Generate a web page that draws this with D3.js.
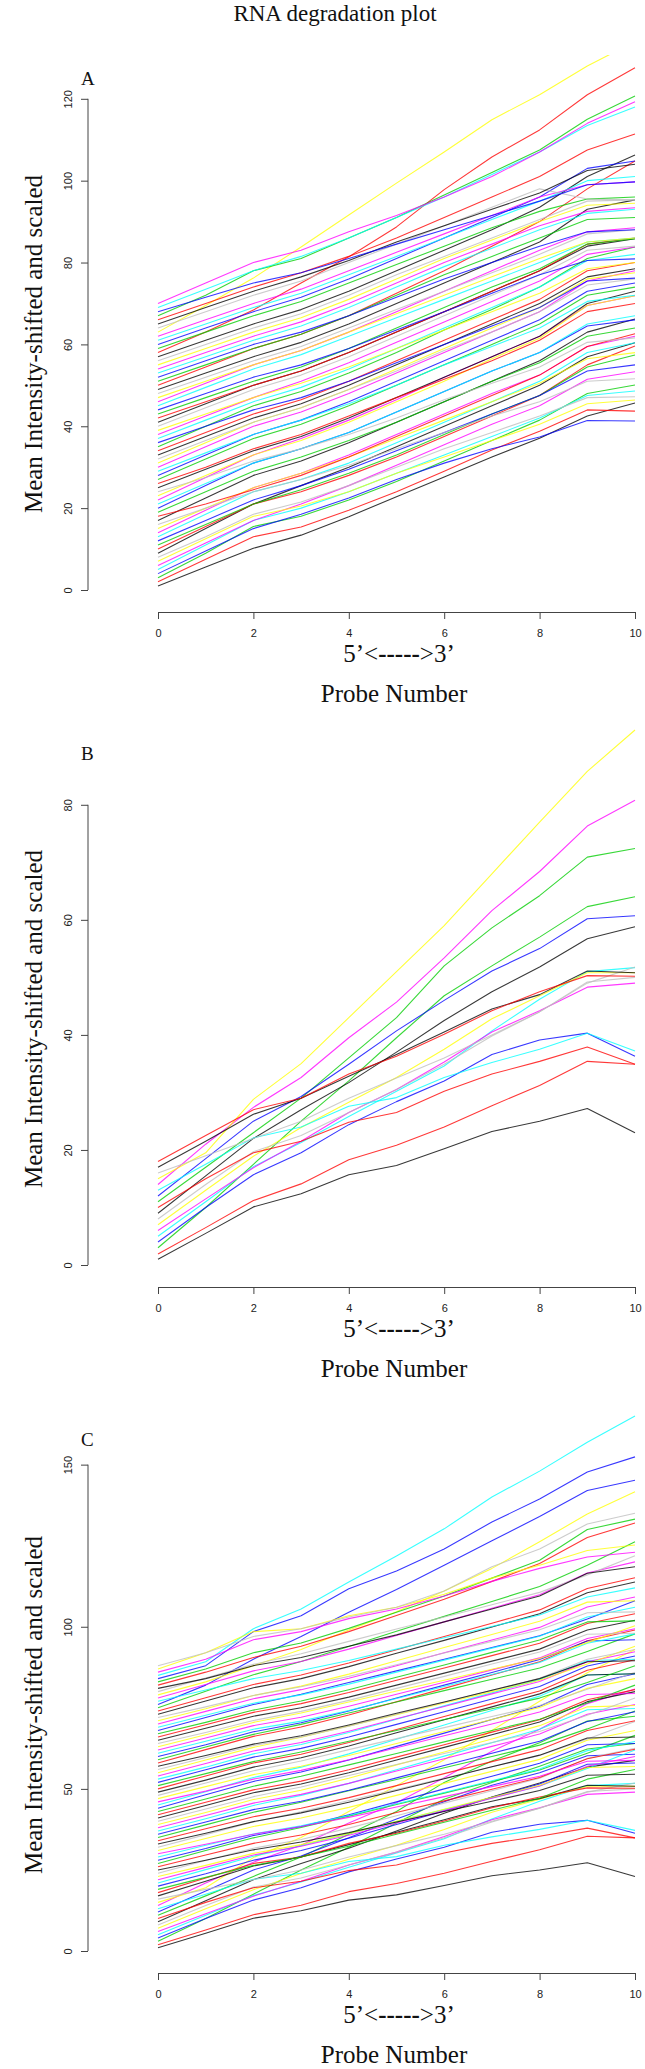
<!DOCTYPE html>
<html><head><meta charset="utf-8">
<script src="https://cdn.jsdelivr.net/npm/d3@7"></script>
<style>body{margin:0;background:#fff}</style>
</head><body>
<svg id="chart" width="645" height="2069"></svg>
<script>
// ---------------- data ----------------
const probes = [0,1,2,3,4,5,6,7,8,9,10];
const xTicks = [0,2,4,6,8,10];
const yTicksA = [0,20,40,60,80,100,120];
const yTicksB = [0,20,40,60,80];
const yTicksC = [0,50,100,150];
const yMax = [130.7, 93, 165];
const panelLabels = ["A","B","C"];
const palette = ["#000000","#FF0000","#00CD00","#0000FF","#00FFFF","#FF00FF","#FFFF00","#BEBEBE"];

const seriesA = [
[1,5.6,10.2,13.4,17.9,22.8,27.6,32.5,37.1,42.5,45.7],
[2,7.5,13,15.4,19.5,24,29,34.2,38.8,44,43.7],
[3,9,15.5,18,22,26.5,31.5,36.5,41.5,48,50.1],
[4,9.5,15,18.5,22.5,27,31,34.5,37.4,41.4,41.3],
[5,11,17,20,24,28.5,33,37.5,42,47.5,48.6],
[6,11.5,17,21,25.5,30.5,35.5,40.5,45,51.5,53.3],
[7,12.5,18,20.5,24,28.5,32.5,36.5,40.5,45.5,46.4],
[8,13,18.5,21.5,25.5,30,34.5,38.5,42.5,47,47.2],
[9,15,21,25.5,30,35,40,45,50,57,60.4],
[10,15.5,21,24,28,32.5,37.5,42.5,47.5,55,59.6],
[11,16,21,24.5,28.5,33,38,43,47.5,54.5,57.4],
[12,17,22,25.5,29.5,34,38.5,43,47.5,53.5,55],
[13,18.5,24,27,31,36,41,46,51,58,60.4],
[14,19.5,25,28.5,33,38,43,48,52.5,59.5,62],
[15,20,25,28.5,32.5,37,41.5,46,50.5,56.5,58],
[16,20,24,27,30.5,34.5,38.5,42.5,46,51,51.6],
[17,22.5,28,31.5,36,41,46,51,56,63,66.2],
[18,21,24.5,28,32.5,37.5,42.5,47.5,52.5,59.5,62.6],
[19,24,29,32.5,36.5,41,46,51,55.5,62,64],
[20,25.5,31,34.5,38.5,43.5,48.5,53.5,58,64.5,66],
[21,26,31,34.5,38.5,43.5,48.5,53.5,58,65,67],
[22,27.5,33,37,41.5,46.5,52,57,62,69.5,71.9],
[23,28,33,36.5,41,46,51,56.5,61.5,69.5,71.9],
[24,27.5,31.5,34.5,38,42,46.5,50.5,54.5,60.5,61.6],
[25,29.5,34,37.5,42,47,52,57,62,70,73],
[26,30,34.5,38,42.5,47,51.5,56,61,68,70],
[27,32,37,40.5,45,50,55,60,65,72,74],
[28,33,38,41.5,46,51,56,61,66,73,75],
[29,33.5,38,41.5,45.5,50,55,59.5,64,70.5,72],
[30,35,40,43.5,48,53,58,63,68,75.5,78],
[31,36,41,44.5,49,54,59,64,69,76,77.5],
[32,36.5,41,44.5,49,53.5,58.5,63,68,74.5,76],
[33,37.5,42,45.5,50,55,60,65,70,76.5,78.5],
[34,38.5,43,46.5,51,56,61,66,71,78,80],
[35,40,45,48.5,53,58,63.5,68.5,74,81,83.8],
[36,40,44,47,51,55.5,60,64.5,69,75.5,76.2],
[37,41.5,46,49.5,54,59,64,69,74,80.5,82],
[38,42.5,47,51,55.5,60.5,65.5,70.5,75.5,82,83.8],
[39,43,47,50.5,54.5,59,63.5,68,72.5,78.5,80],
[40,44.5,49,52.5,57,62,67,72,77,83,84],
[41,45.5,50,53.5,58,63,68,73,78,84,85.8],
[42,46,50,53.5,58,63,68,73,78,84.5,86],
[43,47,51,54.5,59,64,69,74,78.5,84.5,85.8],
[44,48,52,55,59,63.5,68,72.5,77,80.5,80.9],
[45,49.5,54,57.5,62,66.5,71,75.5,80,85,86],
[46,50.5,55,58.5,63,68,73,78,83,87.5,88.5],
[47,51,55,58.5,63,67.5,72,76.5,81,85,86],
[48,52,56,59.5,64,68.5,73,77.5,82,87,88],
[49,53,57,60.5,65,70,75,80,85,93,95.3],
[50,54.5,59,62.5,67,72.5,78,84,90,98,104.8],
[51,55,59,62.5,67,72,77,81.5,86,90.5,91],
[52,56,60,63,67,71.5,76,80,84,87.5,88],
[53,57,61,64.5,69,74,79,83.5,88,92,93],
[54,58,62,65.5,70,75,80,84.5,89,92.5,93.4],
[55,59,63,66.5,71,76,81,85.5,90,94,94.5],
[56,60,64,67.5,72,77,81.5,86,90.5,95,95.3],
[57,61,65,68.5,73,78,83,88,93.5,101,106.3],
[58,63,68.4,75,81.4,88.7,97.8,105.8,112.4,121,127.6],
[59,63,67,70.5,75,79.5,84,88.5,92.5,95.5,96],
[60,64,68,71.5,76,81,86,91,96,103,104.8],
[61,65,69,72.5,77,81.5,86,90.5,95,100,101],
[62,66,70,73.5,78,82.5,87,91.5,96,99,99.7],
[63,69.5,76.2,83.8,91.6,99.4,107,114.9,121,128,134],
[64,68,72,75.5,80,84.5,89,93.5,98,95.5,95.3],
[65,69,73,76.5,80.5,85,89,93,97,102.5,104],
[66,70,74,77.5,81.5,86,91,96,101,107.5,111.4],
[67,72,78,81,86,91,96.5,102,107.5,115,120.7],
[68,71.5,75,77.5,81,84.5,88,91.5,95,99,99.7],
[69,73.5,78,81.5,86,91,96,101.5,107,113.5,118],
[70,75,80,83,87.5,91.5,96,101,107,114,119.3]
];

const seriesB = [
[1,5.5,10.1,12.4,15.7,17.3,20.2,23.2,25,27.2,23],
[1.9,6.5,11.2,14.1,18.3,20.8,24,27.7,31.2,35.4,34.9],
[3,10,17.5,25,32,39.5,46.8,52,57,62.3,64],
[4,10,15.7,19.5,24.4,28.4,32,36.6,39.1,40.3,36.3],
[5,11,17.1,21.3,25.8,30.2,34.6,40.7,46.2,51,51.7],
[6,11.5,16.9,21.5,26.5,30.5,35.3,40.5,44.2,48.3,49],
[7,13,18.9,23.9,28.3,32.6,37.5,42.8,46.8,50.8,50.8],
[8,14,19.7,22.5,26.5,30.5,34.9,39.8,44,49.2,50],
[9,15.5,22,27,31.7,37,42.5,47.5,51.8,56.7,58.8],
[10,15,19.5,21.5,24.8,26.5,30.2,33.2,35.4,37.9,34.9],
[11,17,23,29,36,43,52,58.6,64.2,70.9,72.4],
[12,18.5,25,29.3,34.9,40.7,46,51.1,55,60.2,60.7],
[13,17.5,22.1,24,27.6,29.1,32.6,35.2,37.5,40.3,37.2],
[14,21,27.4,32.6,39.5,45.7,53.4,61.6,68.4,76.3,80.8],
[15,19.5,28.8,35,43,51,59,68,77,85.8,93],
[16,19,22,25,29,32.5,36,40,44,49,51.8],
[17,21.5,26.2,29,32.8,36.6,40.5,44.5,47,51.1,50.8],
[18,22.5,27,29,33.2,36.3,40.1,44.2,47.5,50.3,50.2]
];

const seriesCUpper = [
[19,22.7,26.4,29,32.3,36,39.7,43.4,47.1,53,56],
[20,23.8,28,31,34.8,39,43.2,47.4,51.5,57.6,58],
[21,25.1,29.2,32.5,36.2,39.9,43.6,47.2,50.9,56.3,62],
[22,25.8,29.6,32.3,35.7,39.5,43.3,47.1,50.9,57,60],
[23,26.4,30.1,32.8,36.2,40,43.7,47.4,51.1,56.6,56.9],
[24,27.9,31.7,34.4,37.9,41.7,45.6,49.4,53.3,59.4,62.5],
[25,28,31.2,33.6,36.5,39.8,43,46.2,49.5,54.2,54.5],
[26,29.6,33.2,35.8,39,42.7,46.3,49.9,53.5,59.3,62.2],
[27,31,34.9,38.1,41.6,45.2,48.7,52.3,55.8,61,66.5],
[28,31.6,35.6,38.4,42,46,50,53.9,57.9,63.6,64],
[29,32.6,36.1,38.6,41.8,45.4,48.9,52.5,56.1,61.8,64.6],
[30,32.9,36,38.4,41.2,44.4,47.6,50.7,53.9,58.5,58.8],
[31,34.7,38.4,41,44.3,48,51.7,55.4,59.1,65,68],
[32,35.9,39.8,42.9,46.4,49.8,53.3,56.8,60.3,65.4,70.8],
[33,36.3,39.9,42.6,45.9,49.5,53.1,56.8,60.4,65.7,66],
[34,37.7,41.4,44,47.3,51,54.7,58.4,62.1,68,71],
[35,38.9,42.8,45.9,49.4,52.9,56.5,60,63.5,68.5,74],
[36,39.8,43.6,46.2,49.6,53.4,57.2,61,64.7,70.8,73.8],
[37,40.8,44.9,48,51.7,55.9,60.1,64.2,68.4,74.4,74.8],
[38,41.8,45.6,48.3,51.7,55.5,59.3,63.1,66.9,73,76],
[39,42.7,46.7,49.6,53.3,57.4,61.4,65.4,69.5,75.3,75.7],
[40,43.8,47.6,50.6,54.1,57.5,60.9,64.3,67.7,72.7,78],
[41,44.9,48.8,51.5,55,58.9,62.8,66.7,70.6,76.9,80],
[42,45.9,49.7,52.4,55.9,59.8,63.6,67.5,71.3,77.5,80.6],
[43,46.9,50.8,53.9,57.4,60.9,64.5,68,71.5,76.5,82],
[44,48.2,52.3,55.2,58.9,63.1,67.2,71.4,75.5,82.2,85.5],
[45,49.1,53.5,56.7,60.8,65.3,69.7,74.2,78.6,85.1,85.5],
[46,49.3,53,55.7,59,62.7,66.4,70,73.7,79.1,79.4],
[47,50.7,54.4,57,60.3,64,67.7,71.4,75.1,81,84],
[48,51.8,55.6,58.6,62.1,65.5,68.9,72.3,75.7,80.7,86],
[49,52.7,56.7,59.6,63.2,67.3,71.3,75.3,79.3,85.1,85.5],
[50,54,58,60.7,64.3,68.3,72.3,76.3,80.2,86.6,89.8],
[51,54.7,58.4,61.4,64.7,68,71.4,74.7,78,82.8,88],
[52,55.9,59.8,62.5,66,69.9,73.8,77.7,81.6,87.9,91],
[53,56.7,60.8,63.7,67.4,71.5,75.6,79.6,83.7,89.6,90],
[54,57.8,61.7,64.3,67.8,71.6,75.4,79.3,83.1,89.2,92.3],
[55,58.9,62.8,65.9,69.4,72.9,76.5,80,83.5,88.5,94],
[56,59.7,63.4,66,69.3,73,76.7,80.4,84.1,90,93],
[57,60.3,63.8,66.4,69.7,73.3,76.8,80.4,84,89.2,89.5],
[58,62.1,66.2,69.1,72.8,76.9,81,85.1,89.2,95.7,99],
[59,62.9,66.8,69.9,73.4,76.8,80.3,83.8,87.3,92.4,97.8],
[60,63.6,67.6,70.4,74,78,82,85.9,89.9,95.6,96],
[61,64.7,68.4,70.9,74.2,77.9,81.6,85.3,89,94.9,97.8],
[62,65.7,69.5,72.1,75.5,79.2,82.9,86.7,90.4,96.4,99.4],
[63,66.7,70.5,73.4,76.8,80.2,83.5,86.9,90.2,95.1,100.3],
[64,67.4,71.1,73.9,77.3,81,84.7,88.5,92.2,97.7,98],
[65,68.7,72.4,75,78.3,82,85.7,89.4,93.1,99,102],
[66,69.8,73.6,76.3,79.7,83.5,87.3,91.1,94.9,101,104],
[67,70.5,74.3,77.1,80.6,84.4,88.2,92.1,95.9,101.5,101.8],
[68,72,76,79.2,82.8,86.4,90,93.6,97.2,102.4,108],
[69,72.7,76.4,79,82.3,86,89.7,93.4,97.1,103,106],
[70,73.9,77.8,80.6,84.1,88,92,95.9,99.8,106.1,109.2],
[71,74.7,78.8,81.7,85.4,89.5,93.6,97.6,101.7,107.6,108],
[72,75.3,78.8,81.5,84.7,88.3,91.9,95.5,99.1,104.3,104.6],
[73,77.1,81.2,84,87.7,91.8,95.8,99.9,104,110.5,113.8],
[74,78.1,82.2,85.1,88.8,92.9,97,101.1,105.2,111.8,115.1],
[75,80.1,85.2,89.3,93.9,98.6,103.2,107.8,112.4,119,126.2],
[76,82,90,97,104.5,111.5,119,126.5,134,142,145.2],
[77,80.5,84,86.5,89.6,93.1,96.6,100.1,103.6,109.2,112],
[78,82.2,86.4,89.3,93.1,97.3,101.5,105.7,109.9,116.6,120],
[79,83,88,93,99,104.6,111,118,126.2,134.8,141.6],
[80,84.2,88.4,91.7,95.5,99.3,103,106.8,110.6,116,121.9],
[81,84,88,90.5,94,97.5,101.5,105.5,109.5,116.5,118.5],
[82,86,90.5,94,98.5,103.5,108.5,114,119.5,127.5,132],
[83,87,92,95,99.5,104.5,109.5,115,120.5,130,133.2],
[84,88,98.5,103.4,111.7,117.2,124,132.3,139.4,147.7,152.4],
[85,89.2,99.4,105.5,113.8,121.8,130.2,140,148,156.9,165],
[86,90,96,98.5,102.5,105.5,109.5,114,118,121.5,123],
[87,92,98.5,99.4,103.4,106,110,115,119,123.5,125.2],
[88,92,97,99.4,103,106,111,118.5,124,131.7,135]
];
const seriesC = seriesB.concat(seriesCUpper);

// ---------------- layout ----------------
const svg = d3.select("#chart");
const W = 645;
const panelOffsets = [0, 675, 1361];
const plotLeft = 158, plotRight = 635, plotBottom = 590, plotTop = 55;
const xAxisY = 612, yAxisX = 88;
const serif = "'Liberation Serif','Times New Roman',Times,serif";
const sans = "'Liberation Sans',Arial,Helvetica,sans-serif";

svg.append("rect").attr("width", W).attr("height", 2069).attr("fill", "#fff");

svg.append("text")
  .attr("x", 335).attr("y", 21)
  .attr("text-anchor", "middle")
  .attr("font-family", serif).attr("font-size", 23)
  .attr("fill", "#111")
  .text("RNA degradation plot");

const panels = [
  {series: seriesA, ticks: yTicksA, max: yMax[0], label: panelLabels[0], off: panelOffsets[0]},
  {series: seriesB, ticks: yTicksB, max: yMax[1], label: panelLabels[1], off: panelOffsets[1]},
  {series: seriesC, ticks: yTicksC, max: yMax[2], label: panelLabels[2], off: panelOffsets[2]}
];

const x = d3.scaleLinear().domain([0, 10]).range([plotLeft, plotRight]);

panels.forEach((p, pi) => {
  const g = svg.append("g").attr("transform", `translate(0,${p.off})`);
  const y = d3.scaleLinear().domain([0, p.max]).range([plotBottom, plotTop]);

  const cid = "clip" + pi;
  g.append("clipPath").attr("id", cid).append("rect")
    .attr("x", plotLeft - 2).attr("y", plotTop - (pi === 0 ? 0 : 2))
    .attr("width", plotRight - plotLeft + 4).attr("height", plotBottom - plotTop + 20);

  const line = d3.line().x((d, i) => x(probes[i])).y(d => y(d));
  g.append("g").attr("clip-path", `url(#${cid})`)
    .selectAll("path").data(p.series).join("path")
    .attr("d", d => line(d))
    .attr("fill", "none")
    .attr("stroke", (d, i) => palette[i % palette.length])
    .attr("stroke-width", 1.1)
    .attr("stroke-opacity", 0.78)
    .attr("stroke-linejoin", "round");

  const xa = g.append("g").attr("transform", `translate(0,${xAxisY})`)
    .call(d3.axisBottom(x).tickValues(xTicks).tickSize(7).tickSizeOuter(0).tickFormat(d3.format("d")));
  xa.select(".domain").attr("stroke", "#444");
  xa.selectAll(".tick line").attr("stroke", "#444");
  xa.selectAll(".tick text").attr("font-family", sans).attr("font-size", 11)
    .attr("fill", "#222").attr("y", 25).attr("dy", 0);

  const ya = g.append("g").attr("transform", `translate(${yAxisX},0)`)
    .call(d3.axisLeft(y).tickValues(p.ticks).tickSize(7).tickFormat(d3.format("d")));
  ya.select(".domain").remove();
  ya.append("line")
    .attr("x1", 0).attr("x2", 0)
    .attr("y1", y(p.ticks[0])).attr("y2", y(p.ticks[p.ticks.length - 1]))
    .attr("stroke", "#444");
  ya.selectAll(".tick line").attr("stroke", "#444");
  ya.selectAll(".tick text")
    .attr("font-family", sans).attr("font-size", 11).attr("fill", "#222")
    .attr("text-anchor", "middle")
    .attr("transform", "rotate(-90)")
    .attr("x", 0).attr("y", -16).attr("dy", 0);

  g.append("text").attr("x", 81).attr("y", 85)
    .attr("font-family", serif).attr("font-size", 19).attr("fill", "#111")
    .text(p.label);

  g.append("text")
    .attr("transform", `translate(42,344) rotate(-90)`)
    .attr("text-anchor", "middle")
    .attr("font-family", serif).attr("font-size", 25).attr("fill", "#111")
    .text("Mean Intensity-shifted and scaled");

  const t = g.append("text")
    .attr("x", 399).attr("y", 662)
    .attr("text-anchor", "middle")
    .attr("font-family", serif).attr("font-size", 25).attr("fill", "#111");
  t.append("tspan").text("5’<");
  t.append("tspan").attr("font-weight", "bold").text("-----");
  t.append("tspan").text(">3’");

  g.append("text")
    .attr("x", 394).attr("y", 702)
    .attr("text-anchor", "middle")
    .attr("font-family", serif).attr("font-size", 25).attr("fill", "#111")
    .text("Probe Number");
});
</script>
</body></html>
